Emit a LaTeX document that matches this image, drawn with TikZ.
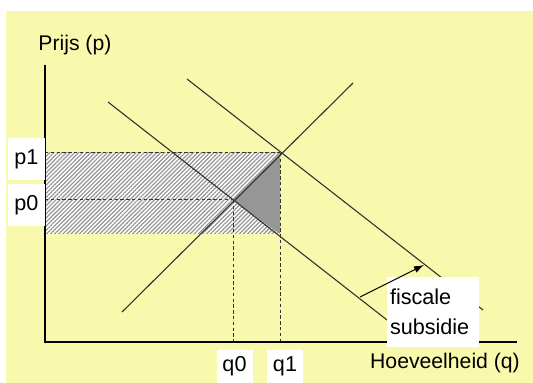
\documentclass[tikz,border=0pt]{standalone}
\usepackage{fontspec}
\setmainfont{Liberation Sans}
\usepackage{xcolor}
\usetikzlibrary{arrows.meta}
\usetikzlibrary{patterns.meta}
\definecolor{achtergrond}{RGB}{249,249,174}
\definecolor{driehoek}{RGB}{150,150,150}

\begin{document}
\begin{tikzpicture}[x=0.5pt,y=-0.5pt,
  lijn/.style={draw=black!80,line width=0.55pt},
  hulplijn/.style={draw=black!80,line width=0.5pt,dash pattern=on 1.7pt off 1.2pt},
  label/.style={fill=white,inner sep=0pt,font=\fontsize{10.8}{15}\selectfont},
  tekst/.style={inner sep=0pt,font=\fontsize{10.6}{15}\selectfont}]
\useasboundingbox (0,0) rectangle (533,383);
\fill[white] (0,0) rectangle (533,383);
\fill[achtergrond] (6,11) rectangle (533,383);
% punten
\coordinate (O) at (45,342);
\coordinate (Ytop) at (45,65);
\coordinate (Xend) at (517,342);
\coordinate (E0) at (233,200);
\coordinate (E1) at (280,153);
\coordinate (Ra) at (45,153);
\coordinate (Rb) at (280,234);
\coordinate (P0) at (45,200);
\coordinate (Sa) at (122,312);
\coordinate (Sb) at (353,83);
\coordinate (Da) at (108,102);
\coordinate (Db) at (387,320);
\coordinate (Va) at (187,79);
\coordinate (Vb) at (483,310);
\coordinate (Pa) at (360,297);
\coordinate (Pb) at (424,265);
% gearceerd vlak en driehoek
\fill[white] (Ra) rectangle (Rb);
\fill[pattern={Lines[angle=45,distance=1.45pt,line width=0.6pt]},pattern color=black!42] (Ra) rectangle (Rb);
\fill[driehoek] (E0) -- (E1) -- (Rb) -- cycle;
% hulplijnen
\draw[hulplijn] (Ra) -- (E1);
\draw[hulplijn] (P0) -- (E0);
\draw[hulplijn] (E0) -- (E0 |- O);
\draw[hulplijn] (E1) -- (E1 |- O);
% curves
\draw[lijn] (Sa) -- (Sb);
\draw[lijn] (Da) -- (Db);
\draw[lijn] (Va) -- (Vb);
% assen
\draw[black,line width=0.6pt] (Ytop) -- (O) -- (Xend);
% labels
\node[label,minimum width=18.5pt,minimum height=21pt] (lp1) at (26.5,159) {p1};
\node[label,minimum width=18.5pt,minimum height=21pt] (lp0) at (26.5,205.5) {p0};
\node[label,minimum width=18pt,minimum height=16.5pt] (lq0) at (234.5,366.5) {q0};
\node[label,minimum width=18pt,minimum height=16.5pt] (lq1) at (285,366.5) {q1};
\node[tekst,anchor=west] (lprijs) at (38,45) {Prijs (p)};
\node[tekst] (lhoev) at (445,363) {Hoeveelheid (q)};
\node[label,minimum width=46pt,minimum height=35pt,align=left,text width=43pt] (lsub) at (433,312) {fiscale\\subsidie};
\draw[black,line width=0.5pt,-{Latex[length=5pt,width=3.5pt]}] (Pa) -- (Pb);
\end{tikzpicture}
\end{document}
